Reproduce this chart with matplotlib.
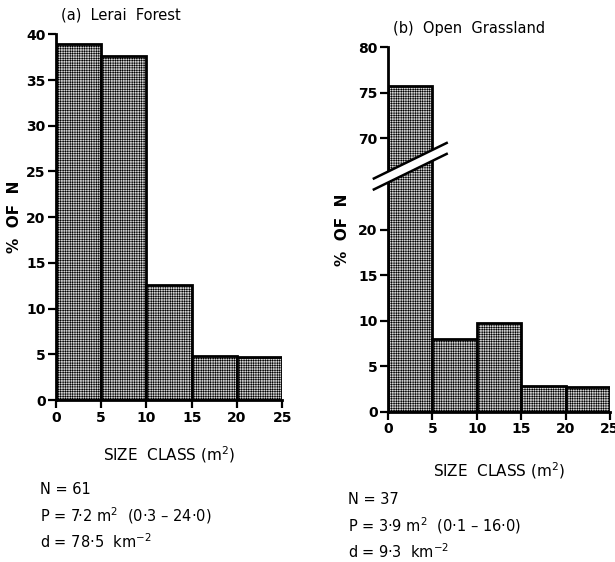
import matplotlib
matplotlib.use("Agg")
import matplotlib.pyplot as plt
from matplotlib.patches import Polygon
import numpy as np

# size classes (m^2), bin edges shared by both panels
bin_edges = [0, 5, 10, 15, 20, 25]
x_ticks = [0, 5, 10, 15, 20, 25]

# (a) Lerai Forest, % of N
forest_pct = [38.9, 37.6, 12.6, 4.8, 4.7]
forest_stats = ["N = 61", "P = 7·2 m$^2$  (0·3 – 24·0)", "d = 78·5  km$^{-2}$"]

# (b) Open Grassland, % of N (axis broken between 20 and 70)
grass_pct = [75.7, 8.0, 9.8, 2.8, 2.7]
grass_stats = ["N = 37", "P = 3·9 m$^2$  (0·1 – 16·0)", "d = 9·3  km$^{-2}$"]
grass_lower_ticks = [0, 5, 10, 15, 20]
grass_upper_ticks = [70, 75, 80]
break_offset = 40  # values above the break are drawn shifted down by this

plt.rcParams['font.family'] = ['DejaVu Sans']
plt.rcParams['hatch.linewidth'] = 0.4
plt.rcParams['hatch.color'] = 'black'

fig = plt.figure(figsize=(6.15, 5.62), dpi=100)
ax1 = fig.add_axes([0.091, 0.288, 0.368, 0.651])
ax2 = fig.add_axes([0.631, 0.267, 0.361, 0.649])


def style_axis(ax):
    for side in ['top', 'right']:
        ax.spines[side].set_visible(False)
    for side in ['left', 'bottom']:
        ax.spines[side].set_linewidth(2)
    ax.tick_params(direction='out', length=6, width=1.6, labelsize=10, pad=1.5)
    for lab in ax.get_xticklabels() + ax.get_yticklabels():
        lab.set_fontweight('bold')
    ax.set_xlim(0, 25)
    ax.set_ylim(0, 40)


def draw_bars(ax, heights):
    lefts = bin_edges[:-1]
    widths = np.diff(bin_edges)
    ax.bar(lefts, heights, width=widths, align='edge', facecolor='#d4d4d4',
           edgecolor='black', linewidth=2, hatch='+++++++', zorder=2)


# ---- (a) Lerai Forest ----
draw_bars(ax1, forest_pct)
ax1.set_xticks(x_ticks)
ax1.set_yticks(range(0, 41, 5))
style_axis(ax1)
ax1.text(0.6, 42.1, "(a)  Lerai  Forest", fontsize=10.5, ha='left', va='center',
         clip_on=False)
ax1.set_xlabel("SIZE  CLASS (m$^2$)", fontsize=11, labelpad=14)
ax1.set_ylabel("%  OF  N", fontsize=11, fontweight='bold')
ax1.yaxis.set_label_coords(-0.15, 0.5)
for i, s in enumerate(forest_stats):
    fig.text(40 / 615, 1 - (490 + i * 26) / 562, s, fontsize=10.5, va='center')

# ---- (b) Open Grassland with broken axis ----
grass_plot = [v - break_offset if v > 40 else v for v in grass_pct]
draw_bars(ax2, grass_plot)
ax2.set_xticks(x_ticks)
ticks = grass_lower_ticks + [t - break_offset for t in grass_upper_ticks]
labels = [str(t) for t in grass_lower_ticks + grass_upper_ticks]
ax2.set_yticks(ticks)
ax2.set_yticklabels(labels)
style_axis(ax2)

# break marks: white band with two parallel slanted lines
xa, xb = -1.6, 6.6
y_top = (25.6, 29.5)
y_bot = (24.4, 28.3)
band = Polygon([[xa, y_bot[0]], [xb, y_bot[1]], [xb, y_top[1]], [xa, y_top[0]]],
               closed=True, facecolor='white', edgecolor='none', zorder=5, clip_on=False)
ax2.add_patch(band)
ax2.plot([xa, xb], y_top, color='black', lw=1.8, zorder=6, clip_on=False)
ax2.plot([xa, xb], y_bot, color='black', lw=1.8, zorder=6, clip_on=False)

ax2.text(0.5, 42.1, "(b)  Open  Grassland", fontsize=10.5, ha='left', va='center',
         clip_on=False)
ax2.set_xlabel("SIZE  CLASS (m$^2$)", fontsize=11, labelpad=17)
ax2.set_ylabel("%  OF  N", fontsize=11, fontweight='bold')
ax2.yaxis.set_label_coords(-0.17, 0.5)
for i, s in enumerate(grass_stats):
    fig.text(348 / 615, 1 - (500 + i * 26) / 562, s, fontsize=10.5, va='center')

fig.savefig("out.png", dpi=100)
